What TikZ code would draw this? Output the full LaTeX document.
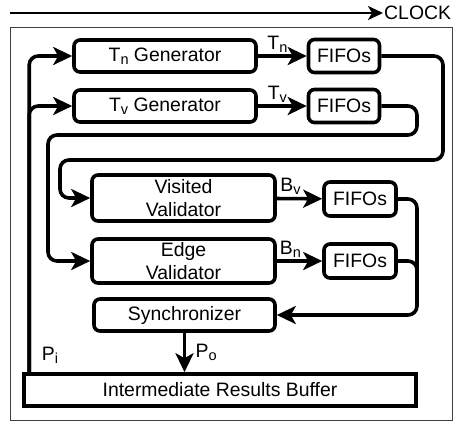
\documentclass[tikz,border=0pt]{standalone}
\usepackage{fontspec}
\setmainfont{Liberation Sans}
\usetikzlibrary{positioning,
	calc,
	arrows.meta}
\newcommand{\lowsub}[1]{\raisebox{-0.3ex}{\fontsize{14.5}{15}\selectfont #1}}

\begin{document}
\begin{tikzpicture}[x=1pt, y=-1pt,
            font=\fontsize{19.4}{23.3}\selectfont,
            >={Stealth[length=19pt, width=18pt, inset=5pt]},
            block/.style={draw, line width=3.6pt, rounded corners=6pt, inner sep=0pt, align=center},
            fifo/.style={block, minimum width=72pt, minimum height=34pt},
            wire/.style={line width=3.6pt, rounded corners=9pt}]
            \useasboundingbox (0, 0) rectangle (457, 424);
            \draw[black!75, line width=1pt] (10, 27) rectangle (452, 420);

            % clock
            \coordinate (clkin) at (10, 13);
            \node[anchor=west, inner sep=1pt] (clock) at (383, 13) {CLOCK};
            \draw[line width=2.3pt, >={Stealth[length=15pt, width=14pt, inset=4pt]}, ->] (clkin) -- (clock.west);

            % generators
            \node[block, minimum width=182pt, minimum height=32pt] (tngen) at (165, 56) {T\lowsub{n} Generator};
            \node[block, minimum width=182pt, minimum height=32pt] (tvgen) at (165, 106) {T\lowsub{v} Generator};
            \node[fifo, minimum width=71pt, minimum height=33pt] (tnfifo) at (344, 56) {FIFOs};
            \node[fifo, minimum width=71pt, minimum height=33pt] (tvfifo) at (344, 106) {FIFOs};

            % validators
            \node[block, minimum width=183pt, minimum height=46pt] (visval) at (183.5, 198) {Visited\\Validator};
            \node[block, minimum width=183pt, minimum height=44pt] (edgeval) at (183.5, 261) {Edge\\Validator};
            \node[fifo] (bvfifo) at (360, 199) {FIFOs};
            \node[fifo] (bnfifo) at (360, 261) {FIFOs};

            \node[block, minimum width=181pt, minimum height=32pt] (sync) at (184.5, 315) {Synchronizer};
            \node[block, rounded corners=0pt, minimum width=392pt, minimum height=32pt] (buffer) at (220, 390) {Intermediate Results Buffer};

            \draw[wire, ->] (tngen) -- node[above, pos=0.4, inner sep=2pt] {T\lowsub{n}} (tnfifo);
            \draw[wire, ->] (tvgen) -- node[above, pos=0.4, inner sep=2pt] {T\lowsub{v}} (tvfifo);
            \draw[wire, ->] (tnfifo.east) -- (443, 56) -- (443, 160) -- (60, 160) |- (visval.west);
            \draw[wire, ->] (tvfifo.east) -- (417, 106) -- (417, 135) -- (48, 135) |- (edgeval.west);

            \draw[wire, ->] (visval) -- node[above, pos=0.3, inner sep=2pt] {B\lowsub{v}} (bvfifo);
            \draw[wire, ->] (edgeval) -- node[above, pos=0.3, inner sep=2pt] {B\lowsub{n}} (bnfifo);
            \draw[wire, ->] (bvfifo.east) -- (417, 199) -- (417, 315) -- (sync.east);
            \draw[wire] (bnfifo.east) -- (417, 261) -- (417, 290);

            % feedback
            \coordinate (fb) at ([xshift=7pt]buffer.north west);
            \draw[wire, ->] (fb) |- (tngen.west);
            \draw[wire, ->] (fb) |- (tvgen.west);
            \node (pi) at (50, 355) {P\lowsub{i}};

            \draw[wire, ->] (sync.south) -- node[right=6pt] {P\lowsub{o}} (sync.south |- buffer.north);
        \end{tikzpicture}
\end{document}
